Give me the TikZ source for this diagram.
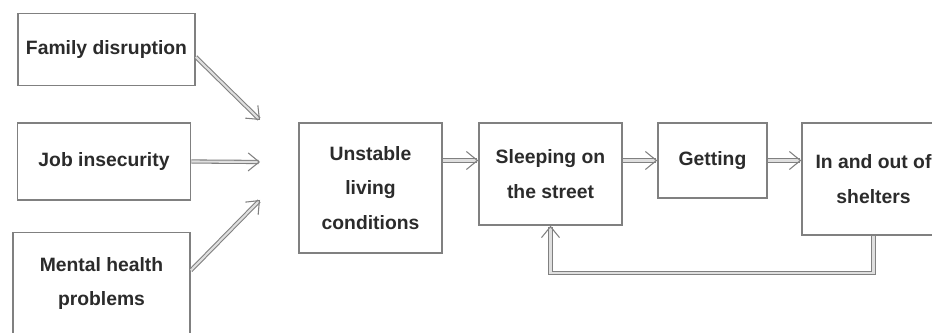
\documentclass[tikz,border=0pt]{standalone}
\usepackage{fontspec}
\setmainfont{Liberation Sans}
\usepackage{tikz}
\usetikzlibrary{positioning,arrows.meta,calc}
\definecolor{cborde}{HTML}{808080}
\definecolor{ctexto}{HTML}{2B2B2B}
\tikzset{
  caja/.style={rectangle, draw=cborde, line width=0.9pt, fill=white,
    align=center, text=ctexto, font=\fontsize{11}{19.5}\selectfont\bfseries},
  flecha/.style={draw=cborde, double=gray!25, double distance=1.2pt, line width=0.6pt,
    -{Straight Barb[length=2.2mm, width=3.6mm]}},
  retorno/.style={draw=cborde, double=gray!25, double distance=1.2pt, line width=0.6pt,
    -{Straight Barb[length=2.2mm, width=3.6mm]}},
}

\begin{document}
\begin{tikzpicture}[x=0.02cm, y=-0.02cm]
  \useasboundingbox (0,0) rectangle (932,333);
  % causas
  \node[caja, minimum width=3.54cm, minimum height=1.44cm] (fam) at (106.5,49.5) {Family disruption};
  \node[caja, minimum width=3.46cm, minimum height=1.54cm] (job) at (104,161.5) {Job insecurity};
  \node[caja, minimum width=3.54cm, minimum height=2.04cm] (ment) at (101.5,283.5) {Mental health\\problems};
  \coordinate (c1) at (260,120);
  \coordinate (c2) at (260,162);
  \coordinate (c3) at (260,200);
  \draw[flecha] ([yshift=-0.15cm]fam.east) -- (c1);
  \draw[flecha] (job.east) -- (c2);
  \draw[flecha] ([yshift=0.26cm]ment.east) -- (c3);
  % trayectoria
  \node[caja, minimum width=2.86cm, minimum height=2.6cm] (inest) at (370.5,188) {Unstable\\living\\conditions};
  \node[caja, minimum width=2.86cm, minimum height=2.04cm] (calle) at (550.5,174) {Sleeping on\\the street};
  \node[caja, minimum width=2.18cm, minimum height=1.5cm] (get) at (712.5,160.5) {Getting};
  \node[caja, minimum width=2.86cm, minimum height=2.24cm] (alb) at (873.5,179) {In and out of\\shelters};
  \draw[flecha] (inest.east |- get.east) -- (calle.west |- get.east);
  \draw[flecha] (calle.east |- get.east) -- (get.west);
  \draw[flecha] (get.east) -- (alb.west |- get.east);
  \draw[retorno] (alb.south) -- ++(0,37) -| (calle.south);
\end{tikzpicture}
\end{document}
